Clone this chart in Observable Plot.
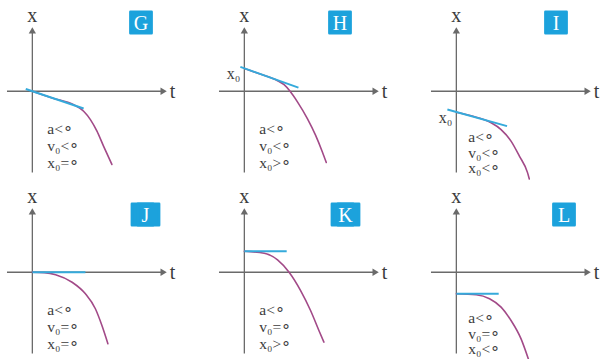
<!DOCTYPE html>
<html><head><meta charset="utf-8">
<script src="https://cdn.jsdelivr.net/npm/d3@7"></script>
<script src="https://cdn.jsdelivr.net/npm/@observablehq/plot@0.6"></script>
<style>body{margin:0;background:#fff}#chart svg{display:block}</style>
</head><body><div id="chart"></div>
<script>
// Panel identities and conditions (a, v0, x0 signs)
const panels = ["G", "H", "I", "J", "K", "L"];
const cols = [0, 1, 2, 0, 1, 2];
const rows = [0, 0, 0, 1, 1, 1];
const aSign = ["<", "<", "<", "<", "<", "<"];
const v0Sign = ["<", "<", "<", "=", "=", "="];
const x0Sign = ["=", ">", "<", "=", ">", "<"];
// initial position and initial slope (tangent)
const x0 = [0, 1.15, -1.04, 0, 1.05, -1.08];
const v0 = [-0.336, -0.355, -0.278, 0, 0, 0];
const tangentFrom = [-0.33, -0.2, -0.45, 0, 0, 0];
const tangentTo = [2.58, 2.72, 2.55, 2.67, 2.13, 2.13];
const x0Labelled = [false, true, true, false, false, false];

// curve points x(t)
const gT = [0, 1.0, 2.08, 2.58, 2.92, 3.25, 3.58, 4.0];
const gX = [0, -0.34, -0.68, -1.0, -1.42, -2.0, -2.75, -3.67];
const hT = [0, 0.83, 1.67, 2.0, 2.3, 2.67, 3.17, 3.58, 3.92, 4.12];
const hX = [1.15, 0.85, 0.53, 0.33, 0, -0.53, -1.37, -2.2, -3.03, -3.57];
const iT = [0, 0.92, 1.75, 2.25, 2.75, 3.17, 3.58, 3.67];
const iX = [-1.05, -1.28, -1.58, -1.92, -2.5, -3.25, -4.08, -4.4];
const jT = [0, 0.6, 1.17, 2.0, 2.67, 3.17, 3.5, 3.8];
const jX = [0, -0.02, -0.12, -0.5, -1.08, -1.83, -2.67, -3.58];
const kT = [0, 1.0, 1.67, 2.25, 2.83, 3.33, 3.75, 4.0];
const kX = [1.05, 0.95, 0.62, 0, -0.92, -1.92, -2.92, -3.5];
const lT = [0, 1.0, 1.67, 2.25, 2.75, 3.25, 3.63];
const lX = [-1.08, -1.13, -1.33, -1.75, -2.42, -3.33, -4.37];

const curveTs = [gT, hT, iT, jT, kT, lT];
const curveXs = [gX, hX, iX, jX, kX, lX];

// layout (pixel offsets of the letter badges inside each panel)
const badgeDx = [135.5, 122.5, 126.5, 140, 128, 134.5];
const badgeDy = [16, 16, 16, 27, 27, 27];
const badgeWide = [false, false, false, true, true, false];

const ZERO = "∘";
const panelRows = panels.map((p, i) => ({
  panel: p, col: cols[i], row: rows[i], x0: x0[i], v0: v0[i],
  t1: tangentFrom[i], t2: tangentTo[i], labelled: x0Labelled[i],
  text: `a${aSign[i]}${ZERO}\nv₀${v0Sign[i]}${ZERO}\nx₀${x0Sign[i]}${ZERO}`
}));
const curveRows = panels.flatMap((p, i) => curveTs[i].map((t, k) => ({
  panel: p, col: cols[i], row: rows[i], t, x: curveXs[i][k]
})));

const axisColor = "#6a6a6a";
const textColor = "#3c3c3c";
const curveColor = "#a24a88";
const tangentColor = "#35aadb";
const boxColor = "#1ca2dc";
const fct = {fx: "col", fy: "row"};

const badgeMarks = panelRows.flatMap((d, i) => {
  const offs = badgeWide[i] ? [-3, 3] : [0];
  return [
    ...offs.map(o => Plot.dot([d], {...fct, frameAnchor: "top-left", dx: badgeDx[i] + o, dy: badgeDy[i], symbol: "square", r: 12, fill: boxColor, stroke: boxColor, strokeWidth: 2.5, strokeLinejoin: "round"})),
    Plot.text([d], {...fct, frameAnchor: "top-left", dx: badgeDx[i], dy: badgeDy[i] + 1, text: "panel", textAnchor: "middle", lineAnchor: "middle", fontSize: 20, fill: "#fff"})
  ];
});

const chart = Plot.plot({
  width: 604, height: 359,
  marginTop: 5.5, marginBottom: 0, marginLeft: 4, marginRight: 2,
  facet: {marginTop: 0, marginRight: 0, marginBottom: 0, marginLeft: 0},
  fx: {domain: [0, 1, 2], axis: null, paddingInner: 0.192, paddingOuter: 0},
  fy: {domain: [0, 1], axis: null, paddingInner: 0.047, paddingOuter: 0},
  x: {domain: [-1.35, 7.25], axis: null},
  y: {domain: [-4.375, 4.25], axis: null},
  style: {fontFamily: "'Liberation Serif', serif", background: "#fff"},
  marks: [
    // axes
    Plot.ruleY(panelRows, {...fct, y: () => 0, x1: () => -1.25, x2: () => 6.6, stroke: axisColor, strokeWidth: 1.3}),
    Plot.ruleX(panelRows, {...fct, x: () => 0, y1: () => -4.1, y2: () => 2.95, stroke: axisColor, strokeWidth: 1.3}),
    Plot.dot(panelRows, {...fct, x: () => 6.55, y: () => 0, symbol: "triangle", rotate: 90, r: 2.7, fill: axisColor, stroke: "none"}),
    Plot.dot(panelRows, {...fct, x: () => 0, y: () => 3.0, symbol: "triangle", r: 2.7, fill: axisColor, stroke: "none"}),
    Plot.text(panelRows, {...fct, x: () => 0, y: () => 3.78, text: () => "x", fontSize: 20, fill: textColor}),
    Plot.text(panelRows, {...fct, x: () => 7.05, y: () => 0, text: () => "t", fontSize: 20, fill: textColor}),
    // curves
    Plot.line(curveRows, {...fct, x: "t", y: "x", z: "panel", stroke: curveColor, strokeWidth: 1.6, curve: "monotone-x"}),
    // tangents
    Plot.link(panelRows, {...fct, x1: "t1", y1: d => d.x0 + d.v0 * d.t1, x2: "t2", y2: d => d.x0 + d.v0 * d.t2, stroke: tangentColor, strokeWidth: 2}),
    // x0 labels
    Plot.text(panelRows.filter(d => d.labelled), {...fct, x: () => 0, y: "x0", text: () => "x₀", textAnchor: "end", dx: -4, dy: 6, fontSize: 16, fill: textColor}),
    // conditions
    Plot.text(panelRows.filter(d => d.x0 >= 0), {...fct, x: () => 0.75, y: () => -2.72, text: "text", textAnchor: "start", lineAnchor: "middle", lineHeight: 1.12, fontSize: 15.5, fill: textColor}),
    Plot.text(panelRows.filter(d => d.x0 < 0), {...fct, x: () => 0.6, y: () => -3.08, text: "text", textAnchor: "start", lineAnchor: "middle", lineHeight: 1.0, fontSize: 15.5, fill: textColor}),
    // letter badges
    ...badgeMarks
  ]
});
document.getElementById("chart").append(chart);
</script>
</body></html>
